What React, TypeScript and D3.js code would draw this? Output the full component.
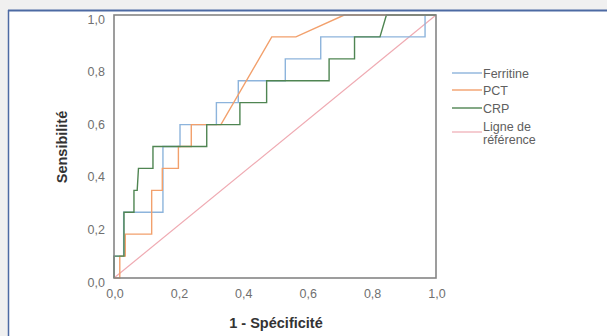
import React from "react";
import * as d3 from "d3";

const ferritineX = [0, 0, 0.03, 0.03, 0.152, 0.152, 0.205, 0.205, 0.318, 0.318, 0.386, 0.386, 0.532, 0.532, 0.642, 0.642, 0.966, 0.966, 1];
const ferritineY = [0, 0.083, 0.083, 0.25, 0.25, 0.5, 0.5, 0.583, 0.583, 0.667, 0.667, 0.75, 0.75, 0.833, 0.833, 0.917, 0.917, 1, 1];

const pctX = [0, 0.018, 0.018, 0.035, 0.035, 0.117, 0.117, 0.15, 0.15, 0.2, 0.2, 0.24, 0.24, 0.332, 0.49, 0.565, 0.715, 1];
const pctY = [0, 0, 0.083, 0.083, 0.167, 0.167, 0.333, 0.333, 0.417, 0.417, 0.5, 0.5, 0.583, 0.583, 0.917, 0.917, 1, 1];

const crpX = [0, 0, 0.031, 0.031, 0.062, 0.062, 0.072, 0.076, 0.121, 0.121, 0.288, 0.288, 0.391, 0.391, 0.474, 0.474, 0.668, 0.668, 0.747, 0.747, 0.826, 0.846, 1];
const crpY = [0, 0.083, 0.083, 0.25, 0.25, 0.333, 0.333, 0.417, 0.417, 0.5, 0.5, 0.583, 0.583, 0.667, 0.667, 0.75, 0.75, 0.833, 0.833, 0.917, 0.917, 1, 1];

const refX = [0, 1];
const refY = [0, 1];

const ticks = [0, 0.2, 0.4, 0.6, 0.8, 1.0];
const tickLabels = ["0,0", "0,2", "0,4", "0,6", "0,8", "1,0"];

const seriesNames = ["Ferritine", "PCT", "CRP"];
const seriesColors = ["#8db4dc", "#f2a06c", "#4f8552"];
const refColor = "#efaab2";

export default function App() {
  const W = 607, H = 336;
  const x = d3.scaleLinear().domain([0, 1]).range([114, 436]);
  const y = d3.scaleLinear().domain([0, 1]).range([278, 15]);
  const line = d3.line<[number, number]>().x((d) => x(d[0])).y((d) => y(d[1]));
  const zip = (a: number[], b: number[]) => a.map((v, i) => [v, b[i]] as [number, number]);
  const series = [
    zip(ferritineX, ferritineY),
    zip(pctX, pctY),
    zip(crpX, crpY),
  ];
  const font = "'Liberation Sans', Arial, sans-serif";
  const legendY = [73, 90, 108];
  return (
    <svg width={W} height={H} style={{ position: "fixed", left: 0, top: 0 }} fontFamily={font}>
      <defs>
        <clipPath id="panel">
          <rect x={9} y={12} width={W} height={H} />
        </clipPath>
      </defs>
      <rect x={0} y={0} width={W} height={H} fill="#f0f0f0" />
      <rect x={9} y={11} width={W} height={H} fill="#ffffff" />
      <line x1={8} y1={10.5} x2={W} y2={10.5} stroke="#4d6aa3" strokeWidth={2} />
      <line x1={8.5} y1={10} x2={8.5} y2={H} stroke="#4d6aa3" strokeWidth={1.5} />
      <g clipPath="url(#panel)">
        <path d={line(zip(refX, refY)) || ""} fill="none" stroke={refColor} strokeWidth={1.2} />
        {series.map((s, i) => (
          <path key={i} d={line(s) || ""} fill="none" stroke={seriesColors[i]} strokeWidth={1.4} />
        ))}
        <rect x={x(0)} y={y(1)} width={x(1) - x(0)} height={y(0) - y(1)} fill="none" stroke="#858585" strokeWidth={1.6} />
        {ticks.map((t, i) => (
          <text key={"y" + i} x={105} y={y(t) + 8.5} textAnchor="end" fontSize={12.5} fill="#707070">
            {tickLabels[i]}
          </text>
        ))}
        {ticks.map((t, i) => (
          <text key={"x" + i} x={x(t) + 1} y={297.5} textAnchor="middle" fontSize={12.5} fill="#707070">
            {tickLabels[i]}
          </text>
        ))}
        <text x={276} y={328} textAnchor="middle" fontSize={14.5} fontWeight="bold" fill="#333">
          1 - Spécificité
        </text>
        <text transform={`translate(67,147) rotate(-90)`} textAnchor="middle" fontSize={14.5} fontWeight="bold" fill="#333">
          Sensibilité
        </text>
        {seriesNames.map((n, i) => (
          <g key={n}>
            <line x1={452} x2={482} y1={legendY[i]} y2={legendY[i]} stroke={seriesColors[i]} strokeWidth={1.4} />
            <text x={483} y={legendY[i] + 5} fontSize={12.5} fill="#606060">{n}</text>
          </g>
        ))}
        <line x1={452} x2={482} y1={132} y2={132} stroke={refColor} strokeWidth={1.2} />
        <text x={483} y={131} fontSize={12.5} fill="#606060">Ligne de</text>
        <text x={483} y={144} fontSize={12.5} fill="#606060">référence</text>
      </g>
    </svg>
  );
}
